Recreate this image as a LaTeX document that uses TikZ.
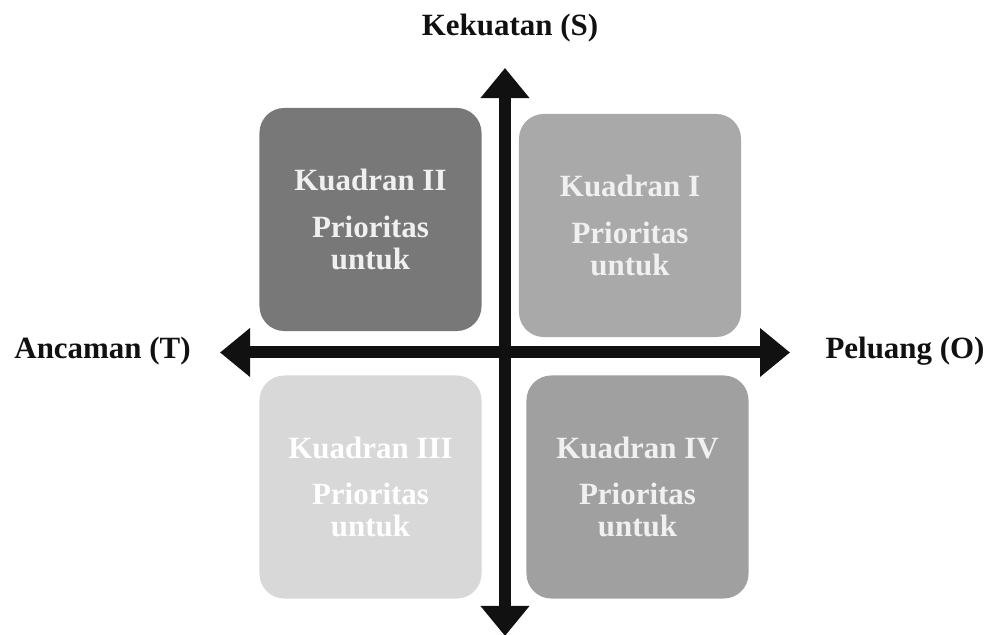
\documentclass[tikz,border=0pt]{standalone}
\usepackage{fontspec}
\setmainfont{Liberation Serif}
\usepackage{tikz}
\usetikzlibrary{arrows.meta}

\definecolor{kII}{HTML}{787878}
\definecolor{kI}{HTML}{A9A9A9}
\definecolor{kIII}{HTML}{D8D8D8}
\definecolor{kIV}{HTML}{A0A0A0}
\definecolor{ink}{HTML}{111111}

\begin{document}
\begin{tikzpicture}[x=0.025cm,y=-0.025cm]
		\useasboundingbox (0,0) rectangle (987,635);

		\begin{scope}[every node/.style={rounded corners=0.62cm,minimum width=5.55cm,minimum height=5.575cm,
					  align=center,text=white!94!black,font=\fontsize{22}{23}\selectfont\bfseries}]
			\node[fill=kII] (q2) at (370.5,219.5) {Kuadran II\\[10pt]Prioritas\\untuk};
			\node[fill=kI] (q1) at (630,225.5) {Kuadran I\\[10pt]Prioritas\\untuk};

			\node[fill=kIII,text=white] (q3) at (370.5,487) {Kuadran III\\[10pt]Prioritas\\untuk};
			\node[fill=kIV] (q4) at (637.5,487) {Kuadran IV\\[10pt]Prioritas\\untuk};
		\end{scope}

		\begin{scope}[every node/.style={text=ink,font=\fontsize{22}{23}\selectfont\bfseries}]
			\node (s) at (510,28) {Kekuatan (S)};
			\node (t) at (102.5,351) {Ancaman (T)};
			\node (o) at (905,351) {Peluang (O)};
		\end{scope}

		\coordinate (yT) at (505,68);
		\coordinate (yB) at (505,636);
		\coordinate (xL) at (220,352.5);
		\coordinate (xR) at (790,352.5);

		\begin{scope}[>={Triangle[length=7.5mm,width=11.75mm]},
					  every edge/.style={draw=ink,line width=0.3cm}]
			\path [<->] (xL) edge (xR);
			\path [<->] (yB) edge (yT);
		\end{scope}
\end{tikzpicture}
\end{document}
